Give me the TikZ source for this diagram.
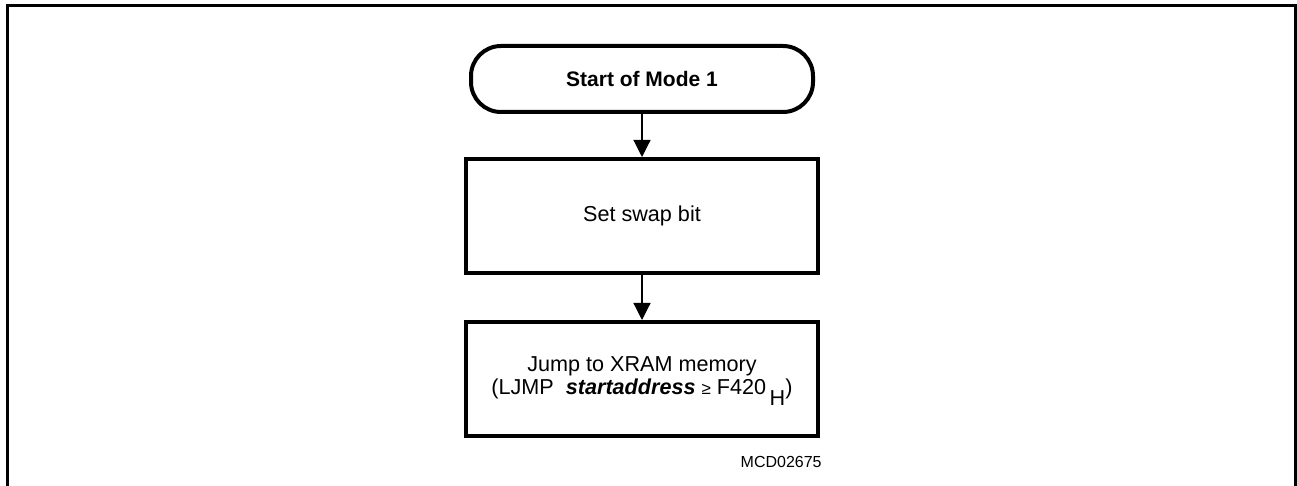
\documentclass[tikz,border=0pt]{standalone}
\usepackage{fontspec}
\setmainfont{Liberation Sans}
\usetikzlibrary{arrows.meta, positioning}

\newcommand{\geqsym}{{\fontsize{8.5pt}{10pt}\selectfont ≥}}
\newcommand{\hexsub}[1]{\,\raisebox{-0.5em}[\height][3.5pt]{#1}}

\begin{document}
\begin{tikzpicture}[x=0.5pt, y=-0.5pt,
  every node/.style = {font=\fontsize{10.8pt}{11.6pt}\selectfont},
  termbox/.style    = {draw=black, line width=2pt, rounded corners=15pt,
                       minimum width=171pt, minimum height=33pt, align=center,
                       font=\fontsize{10.5pt}{12pt}\selectfont\bfseries},
  stepbox/.style    = {draw=black, line width=2pt, align=center,
                       minimum width=176pt, minimum height=57pt, inner sep=2pt},
  flow/.style       = {-{Triangle[length=8.5pt, width=8.5pt]}, draw=black,
                       line width=0.6pt},
  frameline/.style  = {draw=black, line width=1.5pt},
]

  \useasboundingbox (0,0) rectangle (1297,486);

  % ------------------------------------------------------------------ frame
  \coordinate (fbl) at (7,486);
  \coordinate (ftl) at (7,6);
  \coordinate (ftr) at (1295,6);
  \coordinate (fbr) at (1295,486);
  \draw[frameline] (fbl) -- (ftl) -- (ftr) -- (fbr);

  % ------------------------------------------------------------------ steps
  \node[termbox]                  (start) at (642,79) {Start of Mode 1};
  \node[stepbox, below=21.5pt of start] (swap)  {Set swap bit};
  \node[stepbox, below=22.5pt of swap]  (jump)  {Jump to XRAM memory\\
        (LJMP~~\textbf{\textit{startaddress}} \geqsym{} F420\hexsub{H})};

  \node[font=\fontsize{8pt}{10pt}\selectfont, anchor=north east, inner sep=0pt]
        (docid) at ([xshift=1pt, yshift=-9pt]jump.south east) {MCD02675};

  % ---------------------------------------------------------------- linkage
  \draw[flow] (start) -- (swap);
  \draw[flow] (swap) -- (jump);

\end{tikzpicture}
\end{document}
